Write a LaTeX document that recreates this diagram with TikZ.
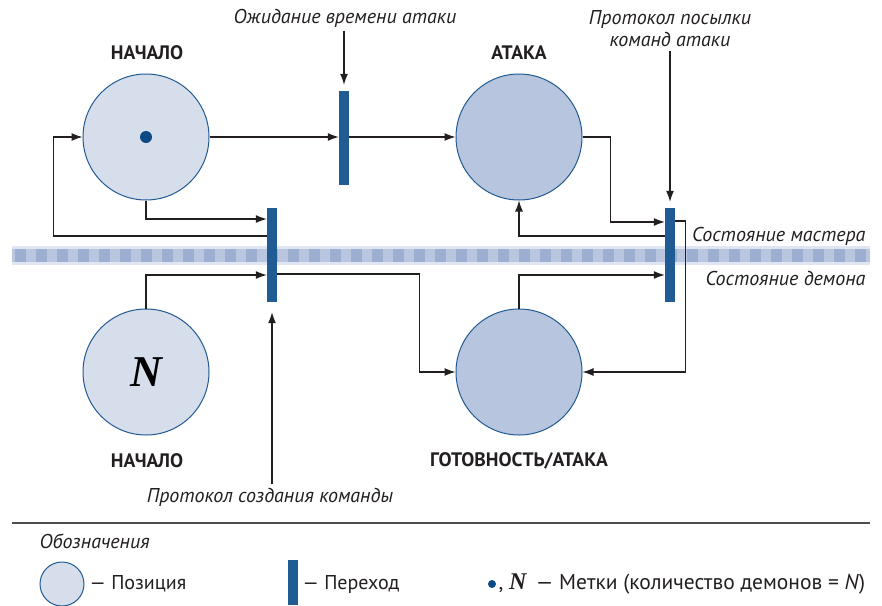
\documentclass[tikz,border=0pt]{standalone}
\usepackage{fontspec}
\setmainfont{PT Sans}
\newfontfamily\nfont{Liberation Serif}
\usetikzlibrary{arrows.meta,calc}
\definecolor{ink}{HTML}{231F20}
\definecolor{barblue}{HTML}{215B94}
\definecolor{dotblue}{HTML}{0B4A85}
\definecolor{posA}{HTML}{D7DEEB}
\definecolor{posB}{HTML}{B8C5DE}
\definecolor{bandL}{HTML}{DFE5F1}
\definecolor{bandM}{HTML}{BAC6E0}
\definecolor{bandD}{HTML}{9DAFD0}
\tikzset{
  placenode/.style={circle, draw=barblue, line width=1pt, minimum size=126pt, inner sep=0pt},
  tbar/.style={rectangle, fill=barblue, minimum width=10pt, minimum height=94pt, inner sep=0pt},
  arr/.style={draw=ink, line width=1.1pt, -{Latex[length=11pt,width=8pt]}},
  title/.style={font=\fontsize{19.5}{22}\selectfont\bfseries, text=ink},
  note/.style={font=\fontsize{20}{22}\selectfont\itshape, text=ink},
  legtext/.style={font=\fontsize{20}{22}\selectfont, text=ink, anchor=west},
}
\begin{document}
\begin{tikzpicture}[x=1pt,y=-1pt]
\path[use as bounding box] (0,0) rectangle (882,605);
% band
\fill[bandL] (12,246) rectangle (870,265);
\fill[bandM] (12,249) rectangle (870,262);
\foreach \i in {0,...,40} {\fill[bandD] ({15+21*\i},249) rectangle ({26+21*\i},262);}
% positions
\node[placenode, fill=posA] (s1) at (146,137) {};
\node[placenode, fill=posA] (s2) at (146,372) {\nfont\fontsize{44}{44}\selectfont\bfseries\itshape N};
\node[placenode, fill=posB] (s3) at (519,137) {};
\node[placenode, fill=posB] (s4) at (519,372) {};
\fill[dotblue] (s1.center) circle (6pt);
% titles
\node[title] (h1) at (147,53) {НАЧАЛО};
\node[title] (h3) at (519,53) {АТАКА};
\node[title] (h2) at (147,461) {НАЧАЛО};
\node[title] (h4) at (519,461) {ГОТОВНОСТЬ/АТАКА};
% transitions
\node[tbar] (t1) at (344,138) {};
\node[tbar] (t2) at (272,255) {};
\node[tbar] (t3) at (670,255) {};
% connectors
\draw[arr] (t2.west |- 0,236) -| ([xshift=-29pt]s1.west) -- (s1.west);
\draw[arr] (s1.south) |- (t2.west |- 0,219);
\draw[arr] (s2.north) |- (t2.west |- 0,275);
\draw[arr] (s1.east) -- (t1.west |- s1.east);
\draw[arr] (t1.east |- s3.west) -- (s3.west);
\draw[arr] (t2.east |- 0,274) -| ([xshift=-36pt]s4.west) -- (s4.west);
\draw[arr] (s3.east) -- ++(28,0) |- (t3.west |- 0,222);
\draw[arr] (t3.west |- 0,236) -| (s3.south);
\draw[arr] (s4.north) |- (t3.west |- 0,275);
\draw[arr] (t3.east |- 0,221) -- ++(10,0) |- (s4.east);
% notes
\node[note] (l1) at (345,18) {Ожидание времени атаки};
\draw[arr] (l1.south -| t1.north) -- ([yshift=6pt]t1.north);
\node[note, align=center] (l2) at (670,29) {Протокол посылки\\команд атаки};
\draw[arr] (l2.south -| t3.north) -- ([yshift=6pt]t3.north);
\node[note] (l3) at (270,497) {Протокол создания команды};
\draw[arr] (l3.north -| t2.south) -- ([yshift=-10pt]t2.south);
\node[note, anchor=east] (m1) at (869,236) {Состояние мастера};
\node[note, anchor=east] (m2) at (869,278) {Состояние демона};
% legend
\draw[ink!80, line width=1.3pt] (12,523) -- (870,523);
\node[note, anchor=west] (lg) at (36,541) {Обозначения};
\node[circle, draw=barblue, line width=1pt, fill=posA, minimum size=44pt, inner sep=0pt] (lc) at (62,584) {};
\node[legtext] (lct) at (86,584) {— Позиция};
\node[rectangle, fill=barblue, minimum width=10pt, minimum height=45pt, inner sep=0pt] (lb) at (293,582) {};
\node[legtext] (lbt) at (299,584) {— Переход};
\fill[dotblue] (492,584) circle (4pt);
\node[legtext, font=\fontsize{21.5}{22}\selectfont] (ldt) at (495,584) {, {\nfont\fontsize{24}{24}\selectfont\bfseries\itshape N}\, — Метки (количество демонов = \textit{N})};
\end{tikzpicture}
\end{document}
